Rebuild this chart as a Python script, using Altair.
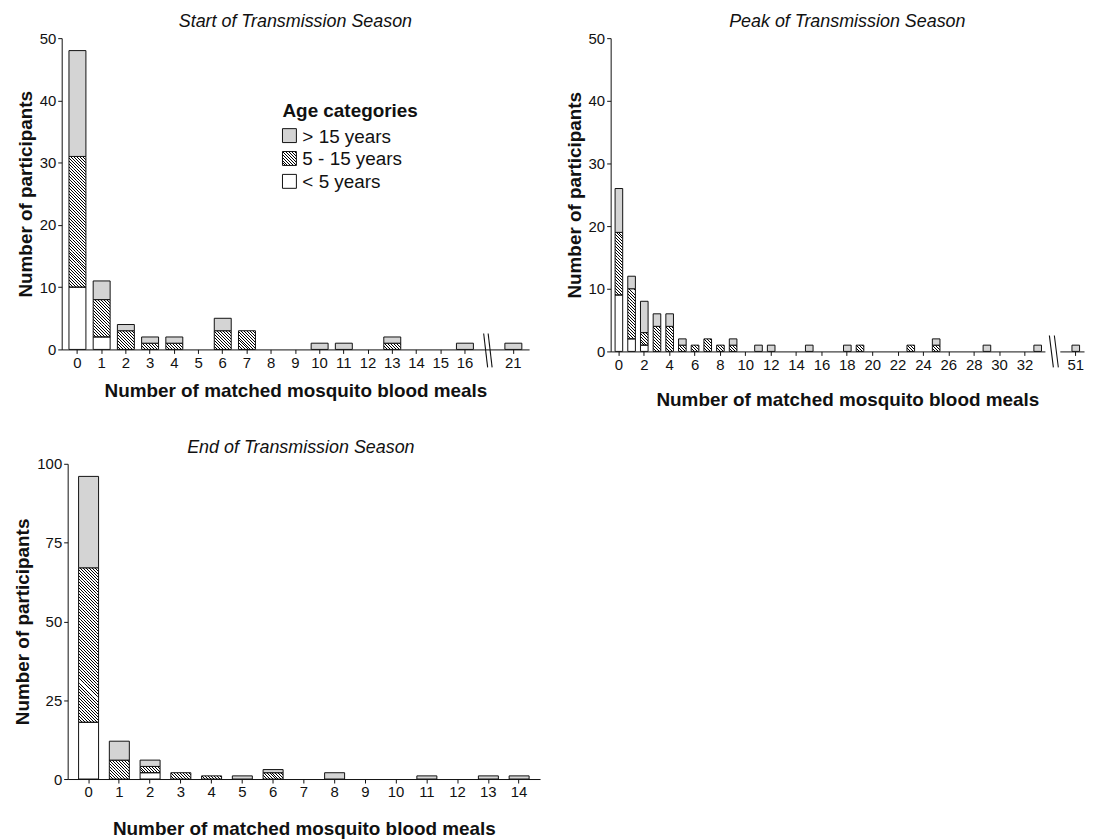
import math
import altair as alt

FONT = "Liberation Sans"
GREY = "#d4d4d4"
WHITE = "#ffffff"
INK = "#111111"

age_groups = ["< 5 years", "5 - 15 years", "> 15 years"]
legend_labels = ["> 15 years", "5 - 15 years", "< 5 years"]

# Start of transmission season
start_meals = [0, 1, 2, 3, 4, 6, 7, 10, 11, 13, 16, 21]
start_lt5 = [10, 2, 0, 0, 0, 0, 0, 0, 0, 0, 0, 0]
start_5to15 = [21, 6, 3, 1, 1, 3, 3, 0, 0, 1, 0, 0]
start_gt15 = [17, 3, 1, 1, 1, 2, 0, 1, 1, 1, 1, 1]
start_domain = [str(i) for i in range(17)] + ["gap", "21"]
start_ticks = [str(i) for i in range(17)] + ["21"]

# Peak of transmission season
peak_meals = [0, 1, 2, 3, 4, 5, 6, 7, 8, 9, 11, 12, 15, 18, 19, 23, 25, 29, 33, 51]
peak_lt5 = [9, 2, 1, 0, 0, 0, 0, 0, 0, 0, 0, 0, 0, 0, 0, 0, 0, 0, 0, 0]
peak_5to15 = [10, 8, 2, 4, 4, 1, 1, 2, 1, 1, 0, 0, 0, 0, 1, 1, 1, 0, 0, 0]
peak_gt15 = [7, 2, 5, 2, 2, 1, 0, 0, 0, 1, 1, 1, 1, 1, 0, 0, 1, 1, 1, 1]
peak_domain = [str(i) for i in range(34)] + ["g1", "g2", "51"]
peak_ticks = [str(i) for i in range(0, 33, 2)] + ["51"]

# End of transmission season
end_meals = [0, 1, 2, 3, 4, 5, 6, 8, 11, 13, 14]
end_lt5 = [18, 0, 2, 0, 0, 0, 0, 0, 0, 0, 0]
end_5to15 = [49, 6, 2, 2, 1, 0, 2, 0, 0, 0, 0]
end_gt15 = [29, 6, 2, 0, 0, 1, 1, 2, 1, 1, 1]
end_domain = [str(i) for i in range(15)]
end_ticks = end_domain

SPACING, DARK_LEN = 3.0, 1.0


def hatch_gradient(w, h, ytop, dark="#000000", light="#ffffff"):
    """Diagonal '\\' stripes as a hard-stop linear gradient (bbox units),
    phased so stripes continue across stacked pieces of one bar."""
    k = (w + h) / (w * w + h * h)
    umin, umax = -h - ytop, w - ytop
    stops = []
    kk = math.floor(umin / SPACING) - 1
    while kk * SPACING < umax + SPACING:
        ua, ub = kk * SPACING, kk * SPACING + DARK_LEN
        ta = (ua + h + ytop) / (w + h)
        tb = (ub + h + ytop) / (w + h)
        ta, tb = max(ta, 0.0), min(tb, 1.0)
        if tb > ta:
            stops += [(ta, light), (ta, dark), (tb, dark), (tb, light)]
        kk += 1
    if not stops:
        stops = [(0.0, light), (1.0, light)]
    return {
        "gradient": "linear",
        "x1": 0, "y1": 1,
        "x2": round(k * w, 7), "y2": round(1 - k * h, 7),
        "stops": [{"offset": round(o, 7), "color": col} for o, col in stops],
    }


def make_rows(meals, lt5, mid, gt15, bar_px, ppu):
    seg, hatch = [], []
    for m, a, b, c in zip(meals, lt5, mid, gt15):
        base = 0
        for grp, v in zip(age_groups, (a, b, c)):
            if v <= 0:
                continue
            if grp == "5 - 15 years":
                fill = "transparent"
                hpx = v * ppu
                n = max(1, math.ceil(hpx / 13.0))
                for j in range(n):
                    c0 = base + v * j / n
                    c1 = base + v * (j + 1) / n
                    hatch.append({"meals": str(m), "y0": c0, "y1": c1,
                                  "fill": hatch_gradient(bar_px, (c1 - c0) * ppu, -c1 * ppu)})
            elif grp == "> 15 years":
                fill = GREY
            else:
                fill = WHITE
            seg.append({"meals": str(m), "group": grp, "y0": base, "y1": base + v, "fill": fill})
            base += v
    return seg, hatch


def bar_layers(seg, hatch, bar_px, domain, ticks, ymax, yticks, pin, pout, xtitle_pad, xrange=None):
    if xrange is not None:
        xs = alt.Scale(domain=domain, paddingInner=pin, paddingOuter=pout, range=xrange)
    else:
        xs = alt.Scale(domain=domain, paddingInner=pin, paddingOuter=pout)
    x_enc = alt.X("meals:O", scale=xs,
                  axis=alt.Axis(values=ticks, title="Number of matched mosquito blood meals",
                                labelAngle=0, titlePadding=xtitle_pad))
    y_enc = alt.Y("y1:Q", scale=alt.Scale(domain=[0, ymax], nice=False, zero=True),
                  axis=alt.Axis(values=yticks, title="Number of participants",
                                offset=-(xrange[0]) if xrange is not None else 0))
    h = alt.Chart(alt.Data(values=hatch)).mark_bar(strokeWidth=0, width=bar_px).encode(
        x=x_enc, y=y_enc, y2="y0:Q", fill=alt.Fill("fill:N", scale=None))
    s = alt.Chart(alt.Data(values=seg)).mark_bar(stroke=INK, strokeWidth=1, width=bar_px).encode(
        x=x_enc, y=y_enc, y2="y0:Q", fill=alt.Fill("fill:N", scale=None))
    return [h, s]


def title(txt):
    return alt.TitleParams(txt, font=FONT, fontSize=18, fontStyle="italic", fontWeight="normal",
                           color=INK, anchor="middle", offset=0)


one = alt.Data(values=[{"k": 0}])


def break_marks(cat, dx_top, dx_bot, dy_top, dy_bot, sep):
    layers = []
    for s in (0, sep):
        layers.append(alt.Chart(one).mark_rule(color=INK, strokeWidth=1.1,
                                               xOffset=dx_top + s, x2Offset=dx_bot + s,
                                               yOffset=dy_top, y2Offset=dy_bot).encode(
            x=alt.XDatum(cat, type="ordinal"), x2=alt.X2Datum(cat),
            y=alt.YDatum(0, type="quantitative"), y2=alt.Y2Datum(0)))
    return layers


# ---- panel sizes
SW, SH = 470, 313
PW, PH = 476, 315
EW, EH = 475, 317
EOFF = 6

s_bar = 0.7 * SW / (19 - 0.3 + 0.6)
p_bar = 0.6 * PW / (37 - 0.4 + 0.7)
e_bar = 0.65 * EW / (15 - 0.35 + 0.71)

start_seg, start_hatch = make_rows(start_meals, start_lt5, start_5to15, start_gt15, s_bar, SH / 50)
peak_seg, peak_hatch = make_rows(peak_meals, peak_lt5, peak_5to15, peak_gt15, p_bar, PH / 50)
end_seg, end_hatch = make_rows(end_meals, end_lt5, end_5to15, end_gt15, e_bar, EH / 100)

start_bars = bar_layers(start_seg, start_hatch, s_bar, start_domain, start_ticks, 50,
                        [0, 10, 20, 30, 40, 50], 0.3, 0.3, 11)
peak_bars = bar_layers(peak_seg, peak_hatch, p_bar, peak_domain, peak_ticks, 50,
                       [0, 10, 20, 30, 40, 50], 0.4, 0.35, 18)
end_bars = bar_layers(end_seg, end_hatch, e_bar, end_domain, end_ticks, 100,
                      [0, 25, 50, 75, 100], 0.35, 0.355, 20, xrange=[EOFF, EOFF + EW])

# ---- legend inside the first panel
LX, LY0, LDY, SQ = 222, 98, 23, 14
legend_fills = [GREY, hatch_gradient(SQ, SQ, 0), WHITE]
legend_layers = [
    alt.Chart(one).mark_text(align="left", baseline="middle", font=FONT, fontSize=19,
                             fontWeight="bold", color=INK).encode(
        x=alt.value(LX), y=alt.value(LY0 - 25), text=alt.value("Age categories"))
]
for i, (lab, f) in enumerate(zip(legend_labels, legend_fills)):
    yc = LY0 + i * LDY
    legend_layers.append(alt.Chart(one).mark_rect(fill=f, stroke=INK, strokeWidth=1).encode(
        x=alt.value(LX), x2=alt.value(LX + SQ), y=alt.value(yc - SQ / 2), y2=alt.value(yc + SQ / 2)))
    legend_layers.append(alt.Chart(one).mark_text(align="left", baseline="middle", font=FONT,
                                                  fontSize=19, color=INK).encode(
        x=alt.value(LX + SQ + 6), y=alt.value(yc + 1), text=alt.value(lab)))

start = alt.layer(*start_bars, *break_marks("gap", -5.5, -1.5, -16, 18, 4.5), *legend_layers).properties(
    width=SW, height=SH, title=title("Start of Transmission Season"))

axis_gap = alt.Chart(one).mark_rule(color="white", strokeWidth=4, xOffset=-5, x2Offset=10).encode(
    x=alt.XDatum("g1", type="ordinal"), x2=alt.X2Datum("g1"), y=alt.YDatum(0, type="quantitative"))

peak = alt.layer(*peak_bars, axis_gap, *break_marks("g1", -1, 3, -16, 16, 5)).properties(
    width=PW, height=PH, title=title("Peak of Transmission Season"))

end = alt.layer(*end_bars).properties(width=EW + EOFF, height=EH,
                                       title=title("End of Transmission Season"))

chart = alt.vconcat(
    alt.hconcat(start, peak, spacing=36),
    end,
    spacing=30,
).properties(
    padding={"left": 5, "top": 3, "right": 2, "bottom": 2}
).configure_view(stroke=None).configure_axis(
    labelFont=FONT, labelFontSize=15, labelColor=INK, labelPadding=2,
    titleFont=FONT, titleFontSize=19, titleFontWeight="bold", titleColor=INK,
    domainColor=INK, tickColor=INK, tickSize=4, domainWidth=1, tickWidth=1,
    grid=False, zindex=0,
).configure_axisY(titlePadding=4, labelPadding=2)

chart.save("out.html", embed_options={"renderer": "svg", "actions": False})
